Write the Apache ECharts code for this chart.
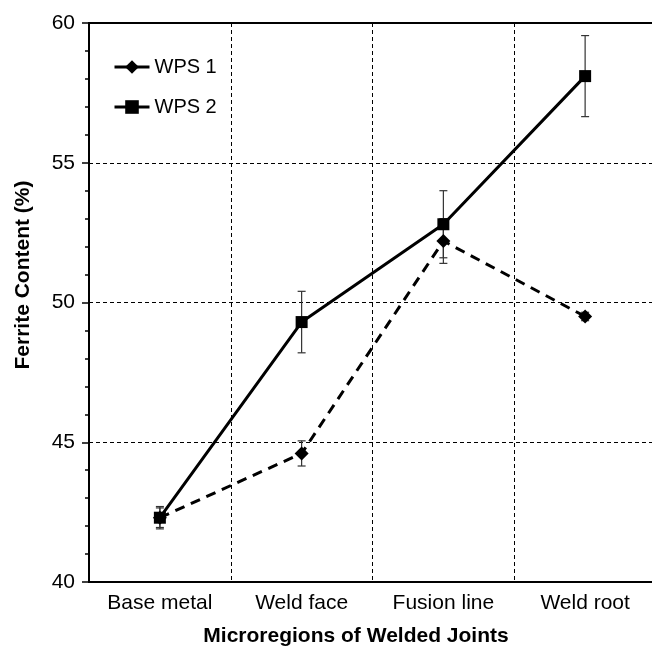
<!DOCTYPE html>
<html>
<head>
<meta charset="utf-8">
<script src="https://cdn.jsdelivr.net/npm/echarts@6/dist/echarts.min.js"></script>
<style>
  html, body { margin: 0; padding: 0; background: #fff; }
  #chart { width: 652px; height: 648px; }
</style>
</head>
<body>
<div id="chart"></div>
<script>
// Ferrite content per microregion, mean and standard deviation
const categories = ['Base metal', 'Weld face', 'Fusion line', 'Weld root'];
const wps1 = [42.3, 44.6, 52.2, 49.5];
const wps1Err = [0.35, 0.45, 0.8, 0.15];
const wps2 = [42.3, 49.3, 52.8, 58.1];
const wps2Err = [0.4, 1.1, 1.2, 1.45];
const seriesNames = ['WPS 1', 'WPS 2'];
const yTitle = 'Ferrite Content (%)';
const xTitle = 'Microregions of Welded Joints';

const FONT = '"Liberation Sans", Arial, sans-serif';

// [categoryIndex, low, high] for each error bar
function errData(vals, errs) {
  return vals.map((v, i) => [i, v - errs[i], v + errs[i]]);
}

function renderErr(params, api) {
  const x = api.value(0);
  const lo = api.coord([x, api.value(1)]);
  const hi = api.coord([x, api.value(2)]);
  const half = 4;
  const style = { stroke: '#333', lineWidth: 1.2 };
  return {
    type: 'group',
    children: [
      { type: 'line', shape: { x1: hi[0], y1: hi[1], x2: lo[0], y2: lo[1] }, style },
      { type: 'line', shape: { x1: hi[0] - half, y1: hi[1], x2: hi[0] + half, y2: hi[1] }, style },
      { type: 'line', shape: { x1: lo[0] - half, y1: lo[1], x2: lo[0] + half, y2: lo[1] }, style }
    ]
  };
}

const chart = echarts.init(document.getElementById('chart'), null, { renderer: 'canvas' });

chart.setOption({
  animation: false,
  backgroundColor: '#fff',
  textStyle: { fontFamily: FONT },
  grid: {
    left: 89, top: 23, width: 567, bottom: 66,
    outerBoundsMode: 'none', containLabel: false,
    show: true, borderColor: '#000', borderWidth: 2, backgroundColor: 'transparent'
  },
  legend: {
    orient: 'vertical',
    left: 113, top: 57, padding: 0,
    itemWidth: 35, itemHeight: 17, itemGap: 20,
    textStyle: { fontSize: 20, color: '#000', fontFamily: FONT },
    lineStyle: { type: 'solid', width: 3, color: '#000' },
    data: seriesNames
  },
  xAxis: {
    type: 'category',
    data: categories,
    boundaryGap: true,
    axisLine: { lineStyle: { color: '#000', width: 2 } },
    axisTick: { alignWithLabel: true, length: 5, lineStyle: { color: '#000', width: 1.5 } },
    axisLabel: { fontSize: 21, color: '#000', margin: 11, fontFamily: FONT },
    splitLine: { show: true, lineStyle: { color: '#000', width: 1, type: [4, 3] } }
  },
  yAxis: {
    type: 'value',
    min: 40, max: 60, interval: 5,
    axisLine: { show: true, lineStyle: { color: '#000', width: 2 } },
    axisTick: { show: true, length: 7, lineStyle: { color: '#000', width: 1.5 } },
    minorTick: { show: true, splitNumber: 5, length: 4, lineStyle: { color: '#000', width: 1.5 } },
    axisLabel: { fontSize: 21, color: '#000', margin: 14, fontFamily: FONT },
    splitLine: { show: true, lineStyle: { color: '#000', width: 1, type: [4, 3] } }
  },
  graphic: [
    {
      type: 'text', x: 356, y: 636,
      style: {
        text: xTitle, font: 'bold 21px ' + FONT, fill: '#000',
        align: 'center', verticalAlign: 'middle'
      }
    },
    {
      type: 'text', x: 23, y: 275, rotation: Math.PI / 2,
      style: {
        text: yTitle, font: 'bold 21px ' + FONT, fill: '#000',
        align: 'center', verticalAlign: 'middle'
      }
    }
  ],
  series: [
    {
      type: 'custom', name: 'err1', renderItem: renderErr,
      data: errData(wps1, wps1Err), z: 1, silent: true
    },
    {
      type: 'custom', name: 'err2', renderItem: renderErr,
      data: errData(wps2, wps2Err), z: 1, silent: true
    },
    {
      name: seriesNames[0], type: 'line', data: wps1, z: 3,
      symbol: 'diamond', symbolSize: 14, showAllSymbol: true,
      lineStyle: { color: '#000', width: 3, type: [10, 7] },
      itemStyle: { color: '#000', borderWidth: 0 }
    },
    {
      name: seriesNames[1], type: 'line', data: wps2, z: 4,
      symbol: 'rect', symbolSize: 12, showAllSymbol: true,
      lineStyle: { color: '#000', width: 3, type: 'solid' },
      itemStyle: { color: '#000', borderWidth: 0 }
    }
  ]
});
</script>
</body>
</html>
